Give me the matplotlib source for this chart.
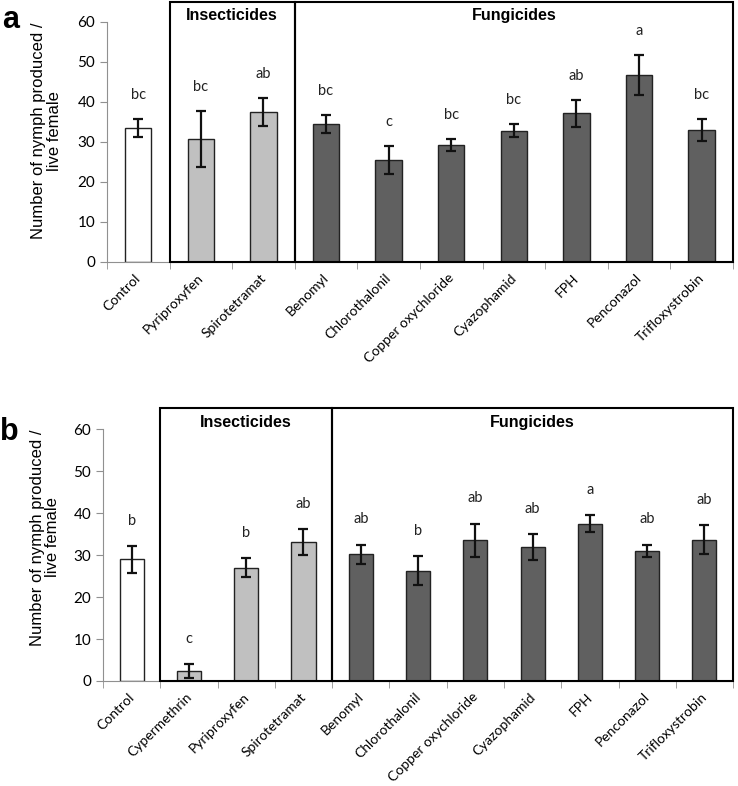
import numpy as np
import matplotlib
matplotlib.use("Agg")
import matplotlib.pyplot as plt
from matplotlib.patches import Rectangle

# panel a
cats_a = ['Control', 'Pyriproxyfen', 'Spirotetramat', 'Benomyl', 'Chlorothalonil',
          'Copper oxychloride', 'Cyazophamid', 'FPH', 'Penconazol', 'Trifloxystrobin']
mean_a = [33.5, 30.7, 37.4, 34.5, 25.4, 29.2, 32.8, 37.1, 46.6, 33.0]
err_a = [2.2, 7.0, 3.5, 2.2, 3.5, 1.5, 1.7, 3.3, 5.0, 2.8]
sig_a = ['bc', 'bc', 'ab', 'bc', 'c', 'bc', 'bc', 'ab', 'a', 'bc']
group_a = ['ctrl', 'ins', 'ins', 'fun', 'fun', 'fun', 'fun', 'fun', 'fun', 'fun']

# panel b
cats_b = ['Control', 'Cypermethrin', 'Pyriproxyfen', 'Spirotetramat', 'Benomyl', 'Chlorothalonil',
          'Copper oxychloride', 'Cyazophamid', 'FPH', 'Penconazol', 'Trifloxystrobin']
mean_b = [29.0, 2.4, 27.0, 33.1, 30.2, 26.3, 33.5, 32.0, 37.5, 31.0, 33.7]
err_b = [3.2, 1.6, 2.2, 3.1, 2.3, 3.4, 4.0, 3.1, 2.0, 1.5, 3.4]
sig_b = ['b', 'c', 'b', 'ab', 'ab', 'b', 'ab', 'ab', 'a', 'ab', 'ab']
group_b = ['ctrl', 'ins', 'ins', 'ins', 'fun', 'fun', 'fun', 'fun', 'fun', 'fun', 'fun']

colors = {'ctrl': 'white', 'ins': '#c0c0c0', 'fun': '#606060'}
group_names = {'ins': 'Insecticides', 'fun': 'Fungicides'}

fig = plt.figure(figsize=(7.38, 7.86), dpi=100)
ax_a = fig.add_axes([0.145, 0.6667, 0.848, 0.331])
ax_b = fig.add_axes([0.1396, 0.1336, 0.8537, 0.347])


def draw_panel(ax, cats, mean, err, sig, group, letter, lpos, ylab_pos):
    n = len(cats)
    x = np.arange(n)
    ax.bar(x, mean, width=0.42, color=[colors[g] for g in group],
           edgecolor='#222222', linewidth=1.0, zorder=2)
    ax.errorbar(x, mean, yerr=err, fmt='none', ecolor='#111111',
                elinewidth=1.6, capsize=3.5, capthick=1.6, zorder=3)
    for xi, m, e, s in zip(x, mean, err, sig):
        ax.text(xi, m + e + 6, s, ha='center', va='center', fontsize=10.5,
                family='Lato', color='#222222')

    # group boxes
    for key in ['ins', 'fun']:
        idx = [i for i, g in enumerate(group) if g == key]
        x0, x1 = idx[0] - 0.5, idx[-1] + 0.5
        ax.add_patch(Rectangle((x0, 0), x1 - x0, 65, fill=False,
                               edgecolor='black', linewidth=1.5, zorder=4, clip_on=False))
        ax.text((x0 + x1) / 2, 61.6, group_names[key], ha='center', va='center',
                fontsize=11.5, fontweight='bold', family='Liberation Sans')

    ax.set_xlim(-0.5, n - 0.5)
    ax.set_ylim(0, 65)
    ax.set_yticks(range(0, 61, 10))
    ax.set_xticks(x - 0.06)
    ax.set_xticklabels(cats, rotation=45, ha='right', rotation_mode='anchor',
                       fontsize=10, family='Lato')
    ax.set_xticks(np.arange(n + 1) - 0.5, minor=True)
    ax.tick_params(axis='x', which='major', length=0, pad=7)
    ax.tick_params(axis='x', which='minor', length=5, color='#909090', direction='out')
    ax.tick_params(axis='y', length=5, color='#909090', labelsize=11)
    for lab in ax.get_yticklabels():
        lab.set_family('Lato')
    for side in ['top', 'right']:
        ax.spines[side].set_visible(False)
    ax.spines['left'].set_bounds(0, 60)
    ax.spines['left'].set_color('#909090')
    ax.spines['bottom'].set_color('#909090')
    ax.set_ylabel('Number of nymph produced /\nlive female', fontsize=12,
                  family='Liberation Sans', linespacing=1.05)
    ax.yaxis.set_label_coords(*ylab_pos)
    ax.text(lpos[0], lpos[1], letter, transform=ax.transAxes, fontsize=22,
            fontweight='bold', family='Liberation Sans', va='baseline', ha='left')


draw_panel(ax_a, cats_a, mean_a, err_a, sig_a, group_a, 'a', (-0.168, 0.90), (-0.072, 0.504))
draw_panel(ax_b, cats_b, mean_b, err_b, sig_b, group_b, 'b', (-0.163, 0.883), (-0.068, 0.527))

fig.savefig('out.png', dpi=100)
